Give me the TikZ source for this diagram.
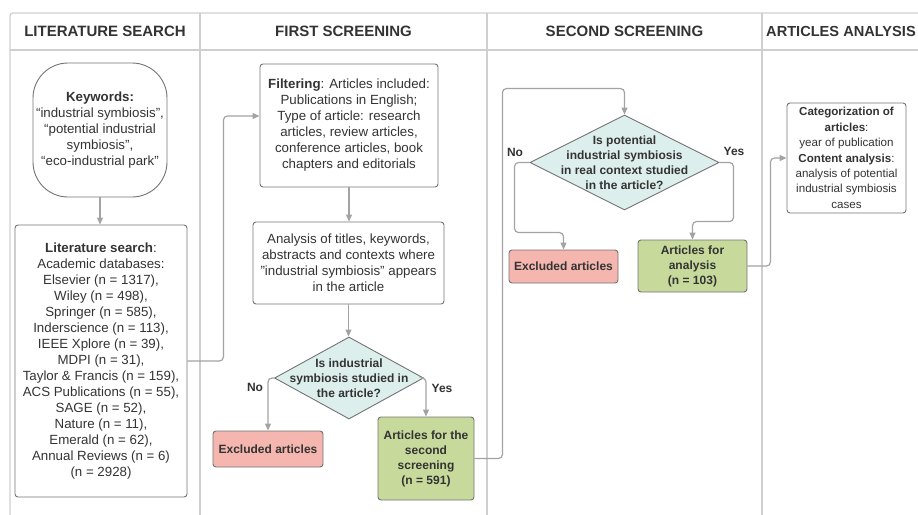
\documentclass[tikz,border=0pt]{standalone}
\usepackage{fontspec}
\setmainfont{Liberation Sans}
\usetikzlibrary{arrows.meta, positioning, shapes.geometric}
\definecolor{InkGray}{HTML}{333333}
\definecolor{EdgeGray}{HTML}{737373}
\definecolor{WireGray}{HTML}{A3A3A3}
\definecolor{LaneGray}{HTML}{CFCFCF}
\definecolor{DecideTeal}{HTML}{DDEFEC}
\definecolor{DropPink}{HTML}{F4B6AF}
\definecolor{KeepGreen}{HTML}{C7DA9C}

\begin{document}
\begin{tikzpicture}[x=1pt, y=-1pt,
      lane/.style={draw=LaneGray, line width=1.3pt},
      head/.style={text=InkGray, font=\fontsize{15}{18}\selectfont\bfseries},
      box/.style={draw=EdgeGray, line width=0.9pt, rounded corners=3pt, inner sep=2pt,
                  align=center, text=InkGray, font=\fontsize{13.3}{16}\selectfont},
      kwbox/.style={box, rounded corners=35pt},
      smallbox/.style={box, font=\fontsize{11.6}{15.4}\selectfont},
      decide/.style={diamond, draw=EdgeGray, line width=0.9pt, fill=DecideTeal, inner sep=0pt},
      dtext/.style={align=center, text=InkGray, font=\fontsize{12}{15}\selectfont\bfseries},
      excl/.style={box, fill=DropPink, font=\fontsize{12}{15}\selectfont\bfseries},
      keep/.style={box, fill=KeepGreen, font=\fontsize{12}{15}\selectfont\bfseries},
      yn/.style={text=InkGray, font=\fontsize{12}{14}\selectfont\bfseries},
      arr/.style={-{Triangle[length=7pt, width=6pt]}, line width=1.2pt, draw=WireGray, rounded corners=4pt}]
    \useasboundingbox (0,0) rectangle (918,514);
    \clip (0,0) rectangle (918,514);
    \draw[lane, rounded corners=3pt] (10,530) -- (10,13) -- (930,13);
    \draw[lane] (10,50) -- (930,50);
    \foreach \x in {200,487,762}
      \draw[lane] (\x,13) -- (\x,530);
    \node[head] (h1) at (105,31) {LITERATURE SEARCH};
    \node[head] (h2) at (343.5,31) {FIRST SCREENING};
    \node[head] (h3) at (624.5,31) {SECOND SCREENING};
    \node[head, anchor=west, inner sep=0pt, font=\fontsize{14.6}{18}\selectfont\bfseries] (h4) at (766,31) {ARTICLES ANALYSIS};

    \node[kwbox, minimum width=134pt, minimum height=134pt] (kw) at (100,130)
      {\textbf{Keywords:}\\“industrial symbiosis”,\\“potential industrial\\symbiosis”,\\“eco-industrial park”};
    \node[box, minimum width=172pt, minimum height=272pt] (lit) at (101,361)
      {\textbf{Literature search}:\\Academic databases:\\Elsevier (n = 1317),\\Wiley (n = 498),\\Springer (n = 585),\\
       Inderscience (n = 113),\\IEEE Xplore (n = 39),\\MDPI (n = 31),\\Taylor \& Francis (n = 159),\\
       ACS Publications (n = 55),\\SAGE (n = 52),\\Nature (n = 11),\\Emerald (n = 62),\\Annual Reviews (n = 6)\\(n = 2928)};

    \node[box, minimum width=178pt, minimum height=123pt] (filt) at (349,125.5)
      {\textbf{Filtering}: Articles included:\\Publications in English;\\Type of article: research\\articles, review articles,\\conference articles, book\\chapters and editorials};
    \node[box, minimum width=191pt, minimum height=82pt] (anl) at (348.5,263)
      {Analysis of titles, keywords,\\abstracts and contexts where\\\symbol{34}industrial symbiosis\symbol{34} appears\\in the article};
    \node[decide, minimum width=149pt, minimum height=82pt] (d1) at (349,378) {};
    \node[dtext] (d1t) at (d1) {Is industrial\\symbiosis studied in\\the article?};
    \node[excl, minimum width=110pt, minimum height=36pt] (ex1) at (268,449) {Excluded articles};
    \node[keep, minimum width=96pt, minimum height=83pt] (art1) at (426,458.5)
      {Articles for the\\second\\screening\\(n = 591)};
    \node[yn] (no1) at (255,387) {No};
    \node[yn] (yes1) at (442,388) {Yes};

    \node[decide, minimum width=189pt, minimum height=95pt] (d2) at (624.5,162.5) {};
    \node[dtext] (d2t) at (d2) {Is potential\\industrial symbiosis\\in real context studied\\in the article?};
    \node[excl, minimum width=109pt, minimum height=33pt] (ex2) at (563.5,266.5) {Excluded articles};
    \node[keep, minimum width=109pt, minimum height=52pt] (art2) at (692.5,266)
      {Articles for\\analysis\\(n = 103)};
    \node[yn] (no2) at (515,152) {No};
    \node[yn] (yes2) at (734,151) {Yes};

    \node[smallbox, minimum width=119pt, minimum height=110pt] (cat) at (846.5,158)
      {\textbf{Categorization of}\\\textbf{articles}:\\year of publication\\\textbf{Content analysis}:\\analysis of potential\\industrial symbiosis\\cases};

    \draw[arr] (kw.south) -- (kw.south |- lit.north);
    \draw[arr] (lit.east) -- ++(36,0) |- ([yshift=9.5pt]filt.west);
    \draw[arr] (filt.south) -- (filt.south |- anl.north);
    \draw[arr] (anl.south) -- (anl.south |- d1.north);
    \draw[arr] (d1.west) -| (ex1.north);
    \draw[arr] (d1.east) -| (art1.north);
    \draw[arr] (art1.east) -- ++(28,0) |- ([yshift=26pt]d2.north) -- (d2.north);
    \draw[arr] (d2.west) -- ++(-15,0) |- ([yshift=17pt]ex2.north) -- (ex2.north);
    \draw[arr] (d2.east) -- ++(14,0) |- ([yshift=18pt]art2.north) -- (art2.north);
    \draw[arr] (art2.east) -- ++(23,0) |- (cat.west);
  \end{tikzpicture}
\end{document}
